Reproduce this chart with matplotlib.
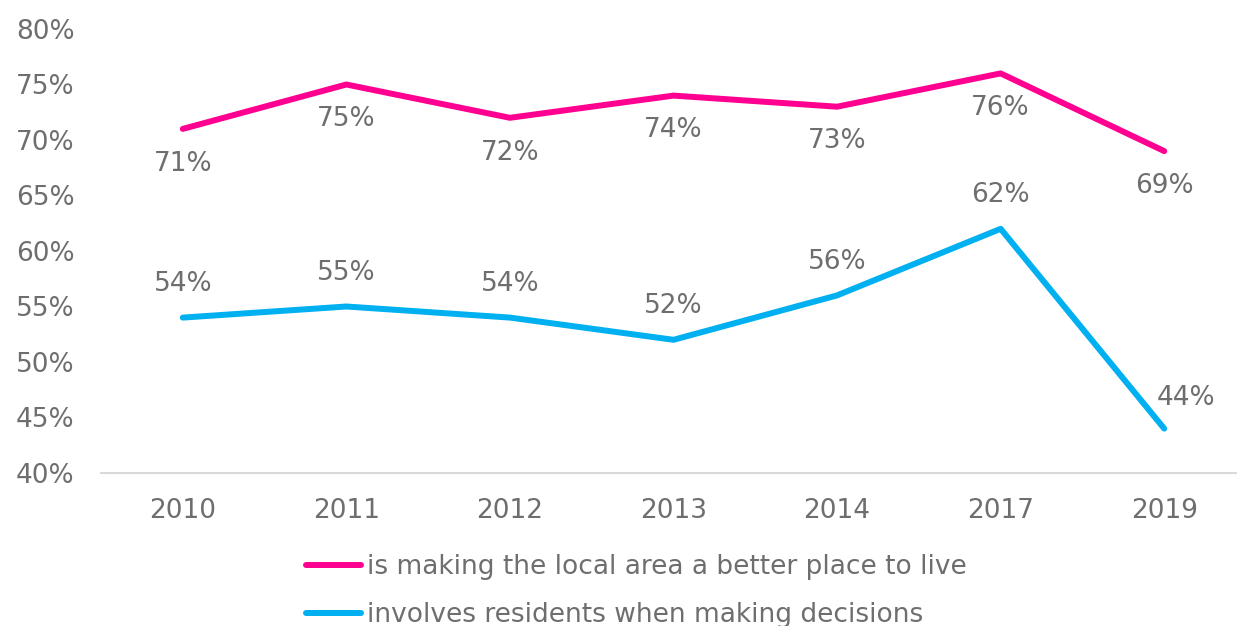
import matplotlib
matplotlib.use("Agg")
import matplotlib.pyplot as plt
from matplotlib.ticker import FuncFormatter

years = ["2010", "2011", "2012", "2013", "2014", "2017", "2019"]
better_place = [71, 75, 72, 74, 73, 76, 69]
involves = [54, 55, 54, 52, 56, 62, 44]
series_names = ["is making the local area a better place to live",
                "involves residents when making decisions"]
y_ticks = [40, 45, 50, 55, 60, 65, 70, 75, 80]

PINK = "#FF0090"
BLUE = "#00B0F0"
GRAY = "#6E6E6E"
FS = 19

plt.rcParams['font.family'] = ['DejaVu Sans']
fig = plt.figure(figsize=(12.37, 6.26), dpi=100)
W, H = 1237, 626
left, right, top, bottom = 101, 1246, 29, 473
ax = fig.add_axes([left / W, 1 - bottom / H, (right - left) / W, (bottom - top) / H])

x = list(range(len(years)))
l1, = ax.plot(x, better_place, color=PINK, lw=4.3, solid_capstyle='round', solid_joinstyle='round')
l2, = ax.plot(x, involves, color=BLUE, lw=4.3, solid_capstyle='round', solid_joinstyle='round')

for i, v in enumerate(better_place):
    ax.annotate(f"{v}%", (i, v), xytext=(0, -25), textcoords='offset points',
                ha='center', va='center', fontsize=FS, color=GRAY)
for i, v in enumerate(involves):
    dx = 16 if i == len(involves) - 1 else 0
    dy = 22 if i == len(involves) - 1 else 24
    ax.annotate(f"{v}%", (i, v), xytext=(dx, dy), textcoords='offset points',
                ha='center', va='center', fontsize=FS, color=GRAY)

ax.set_xlim(-0.5, len(years) - 0.5)
ax.set_ylim(40, 80)
ax.set_yticks(y_ticks)
ax.yaxis.set_major_formatter(FuncFormatter(lambda v, p: f"{v:.0f}%"))
ax.set_xticks(x)
ax.set_xticklabels(years)
ax.tick_params(axis='both', length=0, labelsize=FS, labelcolor=GRAY)
ax.tick_params(axis='y', pad=19)
ax.tick_params(axis='x', pad=18)
for s in ['top', 'right', 'left']:
    ax.spines[s].set_visible(False)
ax.spines['bottom'].set_color('#D9D9D9')
ax.spines['bottom'].set_linewidth(1.5)

leg = fig.legend([l1, l2], series_names, loc='upper left',
                 bbox_to_anchor=(306 / W, 1 - 554 / H), frameon=False,
                 fontsize=FS, handlelength=2.1, handletextpad=0.2,
                 labelspacing=0.85, borderpad=0, borderaxespad=0,
                 labelcolor=GRAY)

fig.savefig("out.png", dpi=100)
